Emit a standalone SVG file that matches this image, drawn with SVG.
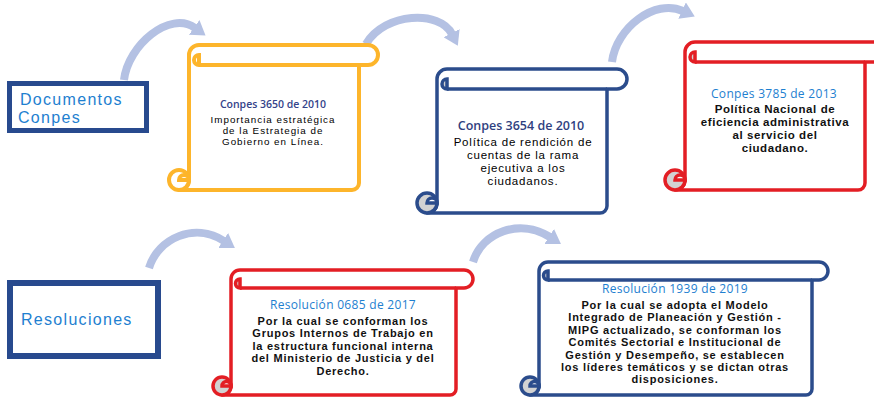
<svg xmlns="http://www.w3.org/2000/svg" width="874" height="400" viewBox="0 0 874 400">
<style>
.bg{fill:#ffffff}
.lbl{fill:#ffffff;stroke:#284a8e}
.lt{font-family:"Liberation Sans",Arial,sans-serif;fill:#1e80d0;font-size:16px;letter-spacing:1.3px}
.sc{fill:#ffffff;stroke-linejoin:round}
.ln{fill:none}
.o{stroke:#fdb52b;stroke-width:4}
.n{stroke:#2b4c8c;stroke-width:3.5}
.r{stroke:#e31e24;stroke-width:3.5}
.gf{fill:#d2d2d2}
.wf{fill:#ffffff}
.t{font-family:"Open Sans","Liberation Sans",sans-serif;text-anchor:middle}
.u{font-family:"Liberation Sans",Arial,sans-serif;text-anchor:middle}
.h1{fill:#34438a;font-weight:600;font-size:10.5px}
.h2{fill:#2f3f7f;font-weight:600;font-size:12.5px}
.hb{fill:#1e80d0;font-weight:500;font-size:12px;letter-spacing:0.3px}
.b1{fill:#000000;font-size:9.8px;letter-spacing:1px}
.b2{fill:#000000;font-size:11.5px;letter-spacing:0.8px}
.b3{fill:#111111;font-weight:bold;font-size:11.5px;letter-spacing:0.6px}
.b4{fill:#111111;font-weight:bold;font-size:11px;letter-spacing:0.75px}
.arr{fill:none;stroke:#b4c1e3;stroke-width:8}
</style>
<defs>
<marker id="ah" markerUnits="userSpaceOnUse" viewBox="0 0 14 18" markerWidth="14" markerHeight="18" refX="1" refY="9" orient="auto">
<path d="M0,0 L14,9 L0,18 Z" fill="#b4c1e3"/>
</marker>
</defs>
<rect class="bg" x="0" y="0" width="874" height="400"/>

<g id="connectors">
<path class="arr" d="M124,80 C128,45 170,10 195,28" marker-end="url(#ah)"/>
<path class="arr" d="M366,44 C385,12 440,10 452,34" marker-end="url(#ah)"/>
<path class="arr" d="M612,62 C616,28 655,-2 683,11" marker-end="url(#ah)"/>
<path class="arr" d="M149,268 C158,238 195,222 224,241" marker-end="url(#ah)"/>
<path class="arr" d="M473,262 C482,232 520,218 550,237" marker-end="url(#ah)"/>
</g>

<g id="documentos-conpes">
<rect class="lbl" x="9.5" y="83.5" width="137" height="47" stroke-width="5"/>
<text class="lt" x="20" y="105">Documentos<tspan x="18" dy="18">Conpes</tspan></text>
</g>

<g id="resoluciones">
<rect class="lbl" x="10" y="283" width="148" height="73" stroke-width="6"/>
<text class="lt" x="21" y="325">Resoluciones</text>
</g>

<g id="conpes-3650">
<path class="sc o" d="M189,180 V55 A10 10 0 0 1 199,45 H368 A10 10 0 0 1 368,65 H359 V183 A7 7 0 0 1 352,190 H179 A10 10 0 0 0 189,180 Z"/>
<path class="ln o" d="M199,65 H359"/>
<path class="wf o" d="M199,65 A5 5 0 0 1 199,55 Z"/>
<circle class="wf o" cx="179" cy="180" r="10"/>
<path class="wf o" d="M179,180 A5 5 0 0 1 189,180 Z"/>
<text class="t h1" x="273" y="108">Conpes 3650 de 2010</text>
<text class="u b1" x="273" y="123">Importancia estratégica<tspan x="273" dy="11">de la  Estrategia de</tspan><tspan x="273" dy="11">Gobierno en  Línea.</tspan></text>
</g>

<g id="conpes-3654">
<path class="sc n" d="M437,203 V79 A10 10 0 0 1 447,69 H617 A10 10 0 0 1 617,89 H607 V206 A7 7 0 0 1 600,213 H427 A10 10 0 0 0 437,203 Z"/>
<path class="ln n" d="M447,89 H607"/>
<path class="gf n" d="M447,89 A5 5 0 0 1 447,79 Z"/>
<circle class="gf n" cx="427" cy="203" r="10"/>
<path class="wf n" d="M427,203 A5 5 0 0 1 437,203 Z"/>
<text class="t h2" x="521" y="130">Conpes 3654 de 2010</text>
<text class="u b2" x="523" y="146">Política de rendición de<tspan x="523" dy="12.9">cuentas de la rama</tspan><tspan x="523" dy="12.9">ejecutiva a  los</tspan><tspan x="523" dy="12.9">ciudadanos.</tspan></text>
</g>

<g id="conpes-3785">
<path class="sc r" d="M685,180 V52 A10 10 0 0 1 695,42 H874 A10 10 0 0 1 874,62 H865 V183 A7 7 0 0 1 858,190 H675 A10 10 0 0 0 685,180 Z"/>
<path class="ln r" d="M695,62 H865"/>
<path class="gf r" d="M695,62 A5 5 0 0 1 695,52 Z"/>
<circle class="gf r" cx="675" cy="180" r="10"/>
<path class="wf r" d="M675,180 A5 5 0 0 1 685,180 Z"/>
<text class="t hb" x="774" y="98">Conpes 3785 de 2013</text>
<text class="u b3" x="775" y="113">Política Nacional de<tspan x="775" dy="12.9">eficiencia  administrativa</tspan><tspan x="775" dy="12.9">al servicio del</tspan><tspan x="775" dy="12.9">ciudadano.</tspan></text>
</g>

<g id="resolucion-0685">
<path class="sc r" d="M231,386 V279 A9 9 0 0 1 240,270 H464 A9 9 0 0 1 464,288 H456 V389 A6 6 0 0 1 450,395 H222 A9 9 0 0 0 231,386 Z"/>
<path class="ln r" d="M240,288 H456"/>
<path class="gf r" d="M240,288 A4.5 4.5 0 0 1 240,279 Z"/>
<circle class="gf r" cx="222" cy="386" r="9"/>
<path class="wf r" d="M222,386 A4.5 4.5 0 0 1 231,386 Z"/>
<text class="t hb" x="343" y="309">Resolución 0685 de 2017</text>
<text class="u b4" x="343" y="325">Por la cual se conforman los<tspan x="343" dy="12.4">Grupos  Internos de Trabajo en</tspan><tspan x="343" dy="12.4">la estructura  funcional interna</tspan><tspan x="343" dy="12.4">del Ministerio de  Justicia y del</tspan><tspan x="343" dy="12.4">Derecho.</tspan></text>
</g>

<g id="resolucion-1939">
<path class="sc n" d="M539,386 V271 A9 9 0 0 1 548,262 H819 A9 9 0 0 1 819,280 H812 V389 A6 6 0 0 1 806,395 H530 A9 9 0 0 0 539,386 Z"/>
<path class="ln n" d="M548,280 H812"/>
<path class="gf n" d="M548,280 A4.5 4.5 0 0 1 548,271 Z"/>
<circle class="gf n" cx="530" cy="386" r="9"/>
<path class="wf n" d="M530,386 A4.5 4.5 0 0 1 539,386 Z"/>
<text class="t hb" x="675" y="293">Resolución 1939 de 2019</text>
<text class="u b4" x="675" y="309">Por la cual se adopta el Modelo<tspan x="675" dy="12.4">Integrado de Planeación y Gestión -</tspan><tspan x="675" dy="12.4">MIPG actualizado, se conforman los</tspan><tspan x="675" dy="12.4">Comités Sectorial e Institucional de</tspan><tspan x="675" dy="12.4">Gestión y Desempeño, se establecen</tspan><tspan x="675" dy="12.4">los líderes temáticos y se dictan otras</tspan><tspan x="675" dy="12.4">disposiciones.</tspan></text>
</g>
</svg>
